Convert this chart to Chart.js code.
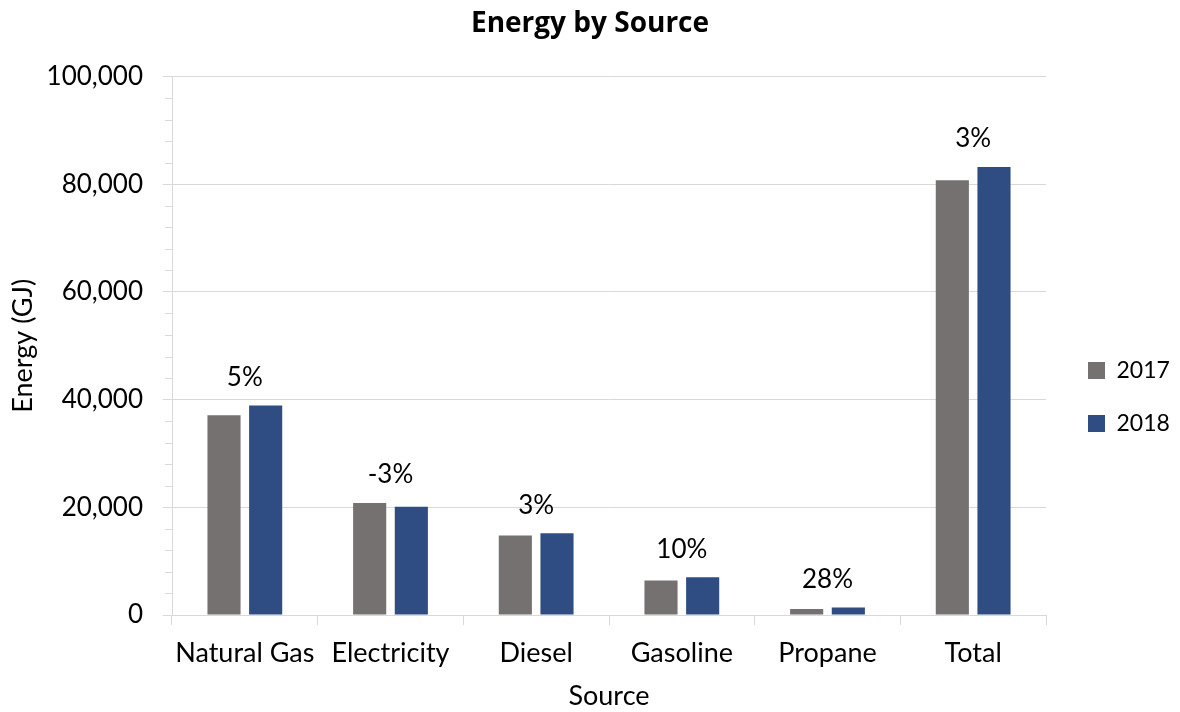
<!DOCTYPE html>
<html>
<head>
<meta charset="utf-8">
<script src="https://cdn.jsdelivr.net/npm/chart.js@4.4.0/dist/chart.umd.min.js"></script>
<style>
  html, body { margin: 0; padding: 0; background: #ffffff; }
  #wrap { width: 1180px; height: 712px; }
</style>
</head>
<body>
<div id="wrap"><canvas id="chart" width="1180" height="712"></canvas></div>
<script>
// Energy use by source, in gigajoules
const sources = ['Natural Gas', 'Electricity', 'Diesel', 'Gasoline', 'Propane', 'Total'];
const energy2017 = [37100, 20800, 14750, 6390, 1100, 80730];
const energy2018 = [38900, 20120, 15200, 7010, 1410, 83200];
// Year-over-year change shown above each pair
const changeLabels = ['5%', '-3%', '3%', '10%', '28%', '3%'];
const yTicks = [0, 20000, 40000, 60000, 80000, 100000];

const FONT = 'Lato, "Open Sans", sans-serif';
const TITLE_FONT = '"Open Sans", Lato, sans-serif';
const GRID = '#d9d9d9';

// Small unlabelled ticks between the major y ticks
const minorTicks = {
  id: 'minorTicks',
  afterDraw(chart) {
    const y = chart.scales.y;
    const ctx = chart.ctx;
    ctx.save();
    ctx.strokeStyle = GRID;
    ctx.lineWidth = 1;
    for (let v = 0; v <= 100000; v += 4000) {
      if (v % 20000 === 0) continue;
      const py = Math.round(y.getPixelForValue(v)) + 0.5;
      ctx.beginPath();
      ctx.moveTo(y.right - 7, py);
      ctx.lineTo(y.right, py);
      ctx.stroke();
    }
    ctx.restore();
  }
};

// Percentage change labels above each category
const changeText = {
  id: 'changeText',
  afterDatasetsDraw(chart) {
    const ctx = chart.ctx;
    const x = chart.scales.x;
    const y = chart.scales.y;
    ctx.save();
    ctx.font = '26px ' + FONT;
    ctx.fillStyle = '#000000';
    ctx.textAlign = 'center';
    ctx.textBaseline = 'middle';
    sources.forEach((s, i) => {
      const top = y.getPixelForValue(Math.max(energy2017[i], energy2018[i]));
      ctx.fillText(changeLabels[i], x.getPixelForValue(i), top - 28);
    });
    ctx.restore();
  }
};

// Fixed legend column width and placement beside the plot
const legendPlace = {
  id: 'legendPlace',
  beforeLayout(chart) {
    const lg = chart.legend;
    if (lg && !lg._fixedWidth) {
      const fit = lg.fit.bind(lg);
      lg.fit = function () { fit(); this.width = 134; };
      lg._fixedWidth = true;
    }
  },
  afterLayout(chart) {
    const lg = chart.legend;
    if (lg) {
      lg.left += 12; lg.right += 12;
      lg.top += 41; lg.bottom += 41;
    }
  }
};

new Chart(document.getElementById('chart'), {
  type: 'bar',
  data: {
    labels: sources,
    datasets: [
      { label: '2017', data: energy2017, backgroundColor: '#767171', borderWidth: 0 },
      { label: '2018', data: energy2018, backgroundColor: '#2f4d82', borderWidth: 0 }
    ]
  },
  options: {
    responsive: false,
    animation: false,
    devicePixelRatio: 1,
    layout: { padding: { left: 0, right: 0, top: 0, bottom: 0 } },
    datasets: { bar: { categoryPercentage: 0.572, barPercentage: 0.795 } },
    plugins: {
      title: {
        display: true,
        text: 'Energy by Source',
        color: '#000000',
        font: { family: TITLE_FONT, size: 28, weight: 'bold' },
        padding: { top: 7, bottom: 36 }
      },
      legend: {
        position: 'right',
        labels: {
          color: '#000000',
          font: { family: FONT, size: 23 },
          boxWidth: 17,
          boxHeight: 17,
          padding: 30
        }
      },
      tooltip: { enabled: false }
    },
    scales: {
      x: {
        grid: {
          offset: true,
          drawOnChartArea: false,
          drawTicks: true,
          tickLength: 10,
          color: GRID
        },
        border: { color: GRID, width: 1 },
        ticks: {
          color: '#000000',
          font: { family: FONT, size: 27 },
          padding: 12,
          maxRotation: 0,
          autoSkip: false
        },
        title: {
          display: true,
          text: 'Source',
          color: '#000000',
          font: { family: FONT, size: 27 },
          padding: { top: 0, bottom: 0 }
        },
        afterFit(scale) { scale.height = 97; }
      },
      y: {
        min: 0,
        max: 100000,
        afterBuildTicks(scale) { scale.ticks = yTicks.map(v => ({ value: v })); },
        grid: {
          color: GRID,
          drawTicks: true,
          tickLength: 9,
          lineWidth: 1
        },
        border: { color: GRID, width: 1 },
        ticks: {
          color: '#000000',
          font: { family: FONT, size: 26 },
          padding: 20,
          callback: v => v.toLocaleString('en-US')
        },
        title: {
          display: true,
          text: 'Energy (GJ)',
          color: '#000000',
          font: { family: FONT, size: 27 },
          padding: { top: 7, bottom: 0 }
        },
        afterFit(scale) { scale.width = 172; }
      }
    }
  },
  plugins: [minorTicks, changeText, legendPlace]
});
</script>
</body>
</html>
